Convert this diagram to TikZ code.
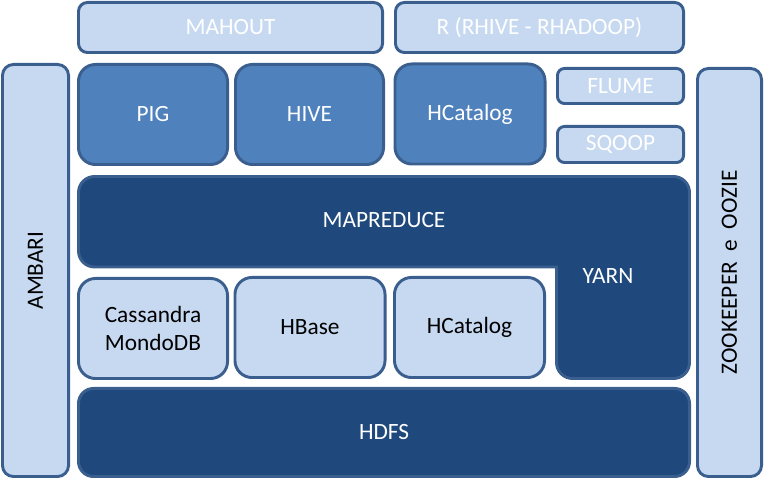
\documentclass[tikz,border=0pt]{standalone}
\usepackage{fontspec}
\setmainfont{Carlito}
\definecolor{boxlight}{HTML}{C6D9F1}
\definecolor{boxmid}{HTML}{4F81BD}
\definecolor{boxdark}{HTML}{1F497D}
\definecolor{boxline}{HTML}{3A5F8E}

\begin{document}
\begin{tikzpicture}[x=0.75pt,y=-0.75pt,
    every node/.style={font=\fontsize{17.5}{21}\selectfont},
    dims/.style 2 args={minimum width=#1*0.75pt-2.2pt, minimum height=#2*0.75pt-2.2pt},
    blk/.style={rectangle, draw=boxline, line width=2.2pt, inner sep=0pt, outer sep=0pt, align=center},
    lightblk/.style={blk, fill=boxlight, text=black},
    paleblk/.style={blk, fill=boxlight, text=white},
    midblk/.style={blk, fill=boxmid, text=white},
    darkblk/.style={blk, fill=boxdark, text=white}]
    \useasboundingbox (0,0) rectangle (768,484);
    % top row
    \node[paleblk, dims={307}{53}, rounded corners=6.75pt] (mahout) at (230.5,27.5) {MAHOUT};
    \node[paleblk, dims={291}{53}, rounded corners=6.75pt] (rhadoop) at (539.5,27.5) {R (RHIVE - RHADOOP)};
    % side bars
    \node[lightblk, dims={69}{415}, rounded corners=8.25pt] (ambari) at (35.5,270.5) {};
    \node[rotate=90] (ambaritxt) at (ambari.center) {AMBARI};
    \node[lightblk, dims={67}{411}, rounded corners=8.25pt] (zoo) at (729.5,272.5) {};
    \node[rotate=90] (zootxt) at (zoo.center) {ZOOKEEPER\ \ e\ \ OOZIE};
    % second row
    \node[midblk, dims={152}{103}, rounded corners=12.75pt] (pig) at (153,114.5) {PIG};
    \node[midblk, dims={151}{103}, rounded corners=12.75pt] (hive) at (309.5,114.5) {HIVE};
    \node[midblk, dims={153}{103}, rounded corners=12.75pt] (hcattop) at (470,114) {HCatalog};
    \node[paleblk, dims={129}{38}, rounded corners=5.25pt] (flume) at (620.5,86) {FLUME};
    \node[paleblk, dims={129}{39}, rounded corners=5.25pt] (sqoop) at (620.5,144.5) {SQOOP};
    % mapreduce + yarn
    \filldraw[fill=boxdark, draw=boxline, line width=2.2pt, line cap=rect, rounded corners=12pt]
        (555,267) -- (78.5,267) -- (78.5,176.5) -- (689.5,176.5) -- (689.5,378.5) -- (556.5,378.5) -- (556.5,267);
    \node[text=white] (mapred) at (384,220) {MAPREDUCE};
    \node[text=white] (yarn) at (608,276) {YARN};
    % storage row
    \node[lightblk, dims={152}{103}, rounded corners=12.75pt] (cassandra) at (153,328.5) {Cassandra\\MondoDB};
    \node[lightblk, dims={153}{103}, rounded corners=12.75pt] (hbase) at (310,327.5) {HBase};
    \node[lightblk, dims={153}{103}, rounded corners=12.75pt] (hcatbot) at (469.5,327.5) {HCatalog};
    \node[darkblk, dims={614}{91}, rounded corners=11.25pt] (hdfs) at (384,432.5) {HDFS};
\end{tikzpicture}
\end{document}
